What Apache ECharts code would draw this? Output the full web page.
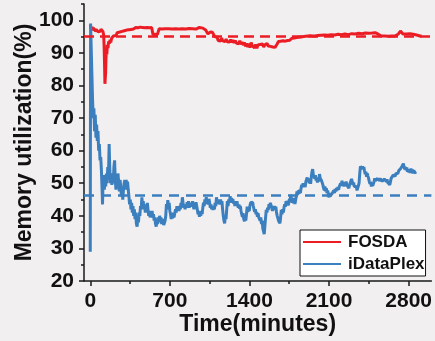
<!DOCTYPE html>
<html>
<head>
<meta charset="utf-8">
<script src="https://cdn.jsdelivr.net/npm/echarts@6/dist/echarts.min.js"></script>
<style>
html,body{margin:0;padding:0;background:#f1eff0;}
#chart{width:435px;height:341px;}
</style>
</head>
<body>
<div id="chart"></div>
<script>
// ---- data ----
const seriesNames = ['FOSDA', 'iDataPlex'];
const xTickValues = [0, 700, 1400, 2100, 2800];
const xMinorTickValues = [350, 1050, 1750, 2450];
const yTickValues = [20, 30, 40, 50, 60, 70, 80, 90, 100];
const yMinorTickValues = [25, 35, 45, 55, 65, 75, 85, 95, 105];
const fosdaMean = 95;
const idataMean = 46.2;

const fosda = [
[0,98.5],[5,98.3],[10,97.2],[16,98],[22,97],[28,97.8],[34,96.8],[40,97.5],[46,96.5],[52,97.2],
[58,96.8],[64,97.6],[70,96.5],[76,96.2],[82,97],[88,96.6],[94,97.3],[100,96.8],[106,97],[112,96.5],
[118,95.5],[122,92],[126,86],[129,80.5],[132,80.2],[135,84],[138,88],[142,91],[146,89.5],[150,92.5],
[156,91.5],[162,93.5],[168,92.8],[174,94],[180,93.2],[188,94.5],[196,94],[204,95.2],[212,94.8],[220,95.8],
[228,95.3],[236,96.2],[244,96],[252,96.7],[260,96.4],[270,97],[280,96.6],[290,97.2],[300,96.8],[310,97.3],
[320,97],[330,97.5],[340,97.1],[350,97.6],[360,97.2],[370,97.7],[380,97.3],[390,97.6],[400,97.8],[410,97.4],
[420,97.7],[430,97.5],[440,97.9],[450,97.5],[460,97.8],[470,97.4],[480,97.7],[490,97.5],[500,97.8],[510,97.4],
[520,97.7],[530,97.5],[540,97.8],[548,97.5],[552,95.6],[560,95.5],[570,95.7],[580,95.5],[590,95.6],[600,95.5],
[606,97.4],[615,97.6],[630,97.3],[645,97.7],[660,97.4],[675,97.8],[690,97.4],[705,97.7],[720,97.3],[735,97.6],
[750,97.4],[765,97.8],[780,97.3],[795,97.6],[810,97.4],[825,97.7],[840,97.3],[855,97.6],[870,97.5],[885,97.8],
[900,97.4],[915,97.7],[930,97.3],[945,97.6],[960,97.8],[975,97.4],[990,97.6],[1005,97.3],[1015,97.0],[1025,96.6],
[1035,95.8],[1045,95.6],[1055,96.4],[1065,96.8],[1075,96.3],[1085,95.8],[1095,95.0],[1105,94.5],[1115,94.8],[1125,93.8],
[1135,94.2],[1145,93.6],[1155,94.5],[1165,93.7],[1175,94.3],[1185,93.5],[1195,94.2],[1205,93.4],[1215,94],[1225,93.3],
[1235,94.1],[1245,93.2],[1255,93.9],[1265,93.1],[1275,93.8],[1285,93],[1295,93.6],[1305,92.8],[1315,93.7],[1325,92.6],
[1335,93.3],[1345,92.4],[1355,93.2],[1365,92],[1375,92.9],[1385,91.8],[1395,92.8],[1405,91.6],[1415,93.2],[1425,92.2],
[1435,92.8],[1445,91.5],[1455,92.6],[1465,91.4],[1475,92.4],[1485,91.8],[1495,92.6],[1505,92],[1515,92.7],[1525,91.8],
[1535,92.5],[1545,92.2],[1555,92.9],[1565,92.1],[1575,92.7],[1585,92.0],[1595,92.6],[1605,91.8],[1615,92.4],[1625,91.7],
[1635,91.6],[1645,92.8],[1655,93.5],[1665,94.0],[1675,93.6],[1685,94.2],[1695,93.7],[1705,94.1],[1715,93.6],[1725,94.2],
[1735,93.8],[1745,94.3],[1755,93.9],[1765,94.2],[1775,94.5],[1785,94.2],[1795,94.6],[1805,94.3],[1815,94.7],[1825,94.4],
[1835,94.8],[1845,94.5],[1855,94.9],[1865,94.6],[1875,95],[1885,94.7],[1895,95.1],[1905,94.8],[1915,95.2],[1925,94.9],
[1935,95.3],[1945,95],[1955,95.2],[1965,94.9],[1975,95.2],[1985,95],[2000,95.3],[2015,95],[2030,95.4],[2045,95.1],
[2060,95.5],[2075,95.1],[2090,95.4],[2105,95.2],[2120,95.6],[2135,95.2],[2150,95.5],[2165,95.3],[2180,95.7],[2195,95.3],
[2210,95.6],[2225,95.4],[2240,95.8],[2255,95.4],[2270,95.6],[2285,95.5],[2300,95.9],[2315,95.5],[2330,95.8],[2345,95.6],
[2360,96],[2375,95.6],[2390,95.9],[2405,95.7],[2420,96.1],[2435,95.7],[2450,96],[2465,95.8],[2480,96.1],[2495,95.9],
[2505,96.2],[2512,96.7],[2520,96.5],[2530,95.8],[2545,95.5],[2560,95.2],[2575,95.5],[2590,95.2],[2605,95.4],[2620,95.1],
[2635,95.5],[2650,95.2],[2665,95.4],[2680,95.2],[2695,95.5],[2710,95.8],[2720,96.4],[2728,96.7],[2736,96.2],[2750,95.8],
[2765,96.1],[2780,95.8],[2795,96.1],[2810,95.9],[2825,96],[2840,95.7],[2855,95.9],[2870,95.5],[2885,95.3],[2900,95.2],
[2915,95.2]
];

const idataplex = [
[0,29],[3,99],[8,92],[14,84],[20,76],[26,70],[32,73],[38,66],[44,71],[50,64],
[56,68],[62,63],[68,66],[74,60],[80,62],[86,57],[92,58],[98,54],[104,48],[108,43.5],
[112,50],[118,52.5],[124,48],[130,52],[136,49],[142,53],[148,50],[154,55],[160,52],[166,62],
[172,54],[178,50],[184,53],[190,49.5],[196,52],[202,50],[208,55],[214,57],[220,51],[226,48],
[232,52],[238,49],[244,53],[250,50],[256,47.5],[262,51],[268,49],[274,46],[280,48],[286,45],
[292,48],[298,50],[304,51],[310,48],[316,51],[322,49],[328,50.5],[334,48],[340,46],[346,43.5],
[352,45],[358,42],[364,44],[370,41],[376,43],[382,40],[388,42],[394,39],[400,41],[406,37.5],
[412,36.7],[418,39],[424,38],[430,41],[436,40],[442,43],[448,42],[454,45.7],[460,43],[466,44.5],
[472,42],[478,43.5],[484,41],[490,43],[496,41],[502,44],[508,42],[514,40],[520,41.5],[526,39.5],
[532,41],[538,40],[544,41.5],[550,39.5],[556,40.5],[562,38.5],[568,39.5],[574,37.5],[580,36.7],[586,38.5],
[592,37.5],[598,39.5],[604,38],[610,40],[616,38.5],[622,39.5],[628,37.5],[634,39],[640,38],[646,37.2],
[652,36.8],[658,38.5],[664,40],[670,43.6],[676,42],[682,44.8],[688,43],[694,44],[700,41.5],[706,40.5],
[712,39],[718,40.5],[724,39.2],[730,41],[736,39.5],[742,40.5],[750,42],[756,41],[762,43],[768,41.7],
[774,42.8],[780,41.5],[786,43],[792,42],[798,44],[804,43],[810,45.7],[816,44],[822,42.5],[828,43.5],
[834,42],[840,43.5],[846,42.5],[852,44.2],[858,43],[864,44.5],[870,42.5],[876,43.8],[882,42.8],[888,44],
[894,43],[900,44.5],[906,43],[912,42],[918,43.5],[924,42.5],[930,44.2],[936,43],[942,41.8],[948,40.5],
[954,41.5],[960,39.7],[966,41],[972,40],[978,41.5],[984,40.5],[990,42.5],[996,44],[1002,43],[1008,45],
[1014,43.6],[1020,45.7],[1026,44],[1032,45],[1038,43.5],[1044,45.2],[1050,44],[1056,42.5],[1062,43.5],[1068,42],
[1074,43],[1080,41.8],[1086,43],[1092,42],[1098,44],[1104,43],[1110,45.7],[1116,44],[1122,45],[1128,43.6],
[1134,44.8],[1140,43.5],[1146,45],[1152,43.8],[1158,44.5],[1164,42],[1170,40],[1176,38.5],[1182,37.7],[1188,40],
[1194,39],[1200,42],[1206,44.5],[1212,43],[1218,45],[1224,44],[1230,46],[1236,44.5],[1242,45.5],[1248,44],
[1254,45.2],[1260,43.8],[1266,44.5],[1272,43],[1278,44.2],[1284,43],[1290,44.5],[1296,43.2],[1302,42.5],[1308,43.5],
[1314,42.2],[1320,43],[1326,41.5],[1332,40.5],[1338,39.7],[1344,40.8],[1350,39],[1356,38.3],[1362,39.5],[1368,38.5],
[1374,40.5],[1380,42.8],[1386,41.2],[1392,42.5],[1398,41.5],[1404,43],[1410,44],[1416,44.5],[1422,43.5],[1428,44.2],
[1434,43],[1440,42],[1446,41.2],[1452,42],[1458,40.5],[1464,41.2],[1470,39.7],[1476,40.8],[1482,39.5],[1488,40],
[1494,38.5],[1500,39.5],[1506,37.5],[1512,38.5],[1518,36],[1524,35.2],[1530,34.4],[1536,37],[1542,39.5],[1548,41.8],
[1554,41],[1560,42.5],[1566,41.8],[1572,43.6],[1578,42.5],[1584,44],[1590,44.5],[1596,42.5],[1602,41.5],[1608,43],
[1614,41.8],[1620,43],[1626,42],[1632,42.8],[1638,41],[1644,40],[1650,39.7],[1656,38.5],[1662,39],[1668,37.7],
[1674,39.5],[1680,41.8],[1686,40.5],[1692,42],[1698,41],[1704,42.5],[1710,43.5],[1716,42.8],[1722,44.5],[1728,43.6],
[1734,44.5],[1740,43.2],[1746,44],[1752,45.2],[1758,44.5],[1764,46.5],[1770,45],[1776,44],[1782,45.5],[1788,43.8],
[1794,45],[1800,43.6],[1806,44.8],[1812,46],[1818,47.5],[1824,46.4],[1830,47.8],[1836,46.8],[1842,48],[1848,47],
[1854,48.5],[1860,49.5],[1866,48.8],[1872,50],[1878,49],[1884,49.8],[1890,48.8],[1896,50.5],[1902,50],[1908,51.8],
[1914,50.5],[1920,51.5],[1926,50],[1932,51.2],[1938,49.8],[1944,52],[1950,53.5],[1956,54.3],[1962,52.5],[1968,52.8],
[1974,51.5],[1980,52.5],[1986,50.8],[1992,51.5],[1998,50.2],[2004,51.8],[2010,50.5],[2016,52.8],[2022,51.5],[2028,52],
[2034,50.8],[2040,51.4],[2046,49.5],[2052,48.5],[2058,47.8],[2064,49],[2070,47.5],[2076,48.5],[2082,47],[2088,47.8],
[2094,46.5],[2100,45.7],[2106,47],[2112,46.2],[2118,45.8],[2124,45.7],[2130,47],[2136,46.5],[2142,47.8],[2148,47],
[2154,48.2],[2160,47.5],[2166,48.5],[2172,47.8],[2178,48.8],[2184,48],[2190,49],[2196,48.5],[2202,50],[2208,49.2],
[2214,50.8],[2220,49.5],[2226,50.3],[2232,49],[2238,50],[2244,49.2],[2250,50.5],[2256,49.5],[2262,49],[2268,49.8],
[2274,48.5],[2280,49.5],[2286,49],[2292,50],[2298,51.3],[2304,50.5],[2310,49.5],[2316,50.2],[2322,49],[2328,49.5],
[2334,48.5],[2340,49],[2346,47.8],[2352,48.5],[2358,48],[2364,50],[2370,53],[2376,55.2],[2382,55.8],[2388,54.5],
[2394,55.2],[2400,54.2],[2406,55],[2412,53.8],[2418,52.8],[2424,53.5],[2430,52],[2436,53],[2442,52.2],[2448,51.5],
[2454,50.5],[2460,49.8],[2466,50.5],[2472,49],[2478,50],[2484,49.2],[2490,49.8],[2496,50.5],[2502,51.5],[2508,50.8],
[2514,51.3],[2520,50.5],[2526,51.5],[2532,50.8],[2538,51.6],[2544,50.6],[2550,51.4],[2556,50.8],[2562,51.6],[2568,50.6],
[2574,51.2],[2580,50.5],[2586,51.3],[2592,50.7],[2598,51.5],[2604,50.5],[2610,51.2],[2616,50.2],[2622,50.8],[2628,49.8],
[2634,49.5],[2640,50.5],[2646,51.5],[2652,52],[2658,51.5],[2664,52.5],[2670,52],[2676,52.8],[2682,52.2],[2688,53],
[2694,52.5],[2700,53.5],[2706,53],[2712,53.8],[2718,54.2],[2724,53.5],[2730,54.5],[2736,54],[2742,55.2],[2748,55.5],
[2754,56],[2760,55],[2766,54.3],[2772,55],[2778,54],[2784,54.8],[2790,53.5],[2796,54.3],[2802,53.3],[2808,54],
[2814,53.2],[2820,54.5],[2826,53.5],[2832,54.2],[2838,53],[2844,54],[2850,53.2],[2856,53.8],[2862,52.8],[2868,53.5]
];

// ---- chart ----
const FONT = '"Liberation Sans", Arial, sans-serif';
const RED = '#ec1c24';
const BLUE = '#3b7fbf';
const AXIS = '#1a1a1a';
const plain = v => String(v);

const chart = echarts.init(document.getElementById('chart'), null, {renderer: 'canvas'});
chart.setOption({
  animation: false,
  backgroundColor: '#f1eff0',
  textStyle: {fontFamily: FONT},
  grid: {left: 84, right: 2, top: 4, bottom: 56, containLabel: false},
  legend: {
    orient: 'vertical',
    left: 300, top: 230,
    data: seriesNames,
    icon: 'rect',
    itemWidth: 38, itemHeight: 2,
    itemGap: 2,
    itemStyle: {borderWidth: 0},
    padding: [2, 1, 2, 3],
    backgroundColor: '#ffffff',
    borderColor: '#111',
    borderWidth: 1,
    borderRadius: 0,
    textStyle: {fontFamily: FONT, fontWeight: 'bold', fontSize: 17, color: '#111', lineHeight: 20, padding: [0, 0, 0, 2]}
  },
  xAxis: [{
    type: 'value', min: -55, max: 3000, position: 'bottom',
    name: 'Time(minutes)', nameLocation: 'middle', nameGap: 32, nameMoveOverlap: false,
    nameTextStyle: {fontFamily: FONT, fontWeight: 'bold', fontSize: 23, color: '#111'},
    axisLine: {show: true, onZero: false, lineStyle: {color: AXIS, width: 1.5}},
    axisTick: {show: true, customValues: xTickValues, length: 5, lineStyle: {color: AXIS, width: 1.5}},
    axisLabel: {customValues: xTickValues, formatter: plain, fontFamily: FONT, fontWeight: 'bold', fontSize: 21, color: '#111', margin: 10},
    splitLine: {show: false}
  }, {
    type: 'value', min: -55, max: 3000, position: 'bottom', gridIndex: 0,
    axisLine: {show: false, onZero: false},
    axisTick: {show: true, customValues: xMinorTickValues, length: 3, lineStyle: {color: AXIS, width: 1.5}},
    axisLabel: {show: false},
    splitLine: {show: false}
  }],
  yAxis: [{
    type: 'value', min: 20, max: 105, position: 'left',
    name: 'Memory utilization(%)', nameLocation: 'middle', nameGap: 48, nameMoveOverlap: false,
    nameTextStyle: {fontFamily: FONT, fontWeight: 'bold', fontSize: 23, color: '#111'},
    axisLine: {show: true, onZero: false, lineStyle: {color: AXIS, width: 1.5}},
    axisTick: {show: true, customValues: yTickValues, length: 5, lineStyle: {color: AXIS, width: 1.5}},
    axisLabel: {customValues: yTickValues, formatter: plain, fontFamily: FONT, fontWeight: 'bold', fontSize: 21, color: '#111', margin: 10},
    splitLine: {show: false}
  }, {
    type: 'value', min: 20, max: 105, position: 'left', gridIndex: 0, offset: 0,
    axisLine: {show: false, onZero: false},
    axisTick: {show: true, customValues: yMinorTickValues, length: 3, lineStyle: {color: AXIS, width: 1.5}},
    axisLabel: {show: false},
    splitLine: {show: false}
  }],
  series: [{
    name: seriesNames[0], type: 'line', data: fosda, xAxisIndex: 0, yAxisIndex: 0,
    showSymbol: false, symbol: 'none', color: RED,
    lineStyle: {color: RED, width: 3},
    markLine: {
      silent: true, symbol: 'none', label: {show: false},
      lineStyle: {color: RED, type: [10, 6], width: 2.5},
      data: [{yAxis: fosdaMean}]
    }
  }, {
    name: seriesNames[1], type: 'line', data: idataplex, xAxisIndex: 0, yAxisIndex: 0,
    showSymbol: false, symbol: 'none', color: BLUE,
    lineStyle: {color: BLUE, width: 3},
    markLine: {
      silent: true, symbol: 'none', label: {show: false},
      lineStyle: {color: BLUE, type: [10, 7], width: 2.5},
      data: [{yAxis: idataMean}]
    }
  }]
});
</script>
</body>
</html>
